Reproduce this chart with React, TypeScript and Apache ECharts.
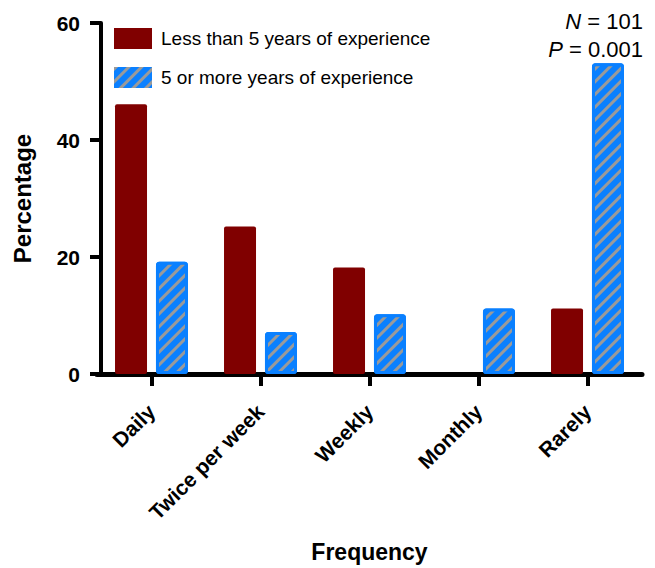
import React, { useEffect, useRef } from "react";
import * as echarts from "echarts";

const categories = ["Daily", "Twice per week", "Weekly", "Monthly", "Rarely"];
const lessThan5 = [46.1, 25.2, 18.2, 0, 11.2];
const fiveOrMore = [19.2, 7.2, 10.2, 11.2, 53.1];
const seriesNames = ["Less than 5 years of experience", "5 or more years of experience"];
const statLines = [
  { key: "N", value: "101" },
  { key: "P", value: "0.001" },
];

const FONT = 'Arial, "Liberation Sans", Helvetica, sans-serif';
const RED = "#800000";
const BLUE = "#0a80ff";

export default function App() {
  const ref = useRef<HTMLDivElement>(null);

  useEffect(() => {
    if (!ref.current) return;
    const chart = echarts.init(ref.current, null, { renderer: "svg" });
    chart.setOption({
      animation: false,
      backgroundColor: "#ffffff",
      textStyle: { fontFamily: FONT },
      grid: { left: 97, right: 13, top: 23, bottom: 190, containLabel: false },
      legend: {
        orient: "vertical",
        left: 109,
        top: 23,
        itemWidth: 38,
        itemHeight: 21,
        itemGap: 18,
        icon: "rect",
        itemStyle: { borderWidth: 0 },
        textStyle: { fontSize: 19, color: "#000", fontFamily: FONT, padding: [0, 0, 0, 4] },
        data: seriesNames,
      },
      xAxis: {
        type: "category",
        data: categories,
        boundaryGap: true,
        axisLine: { show: true, lineStyle: { color: "#000", width: 5 } },
        axisTick: { show: true, alignWithLabel: true, length: 12, lineStyle: { color: "#000", width: 4 } },
        axisLabel: {
          rotate: 45,
          margin: 34,
          color: "#000",
          fontSize: 21,
          fontWeight: "bold",
          fontFamily: FONT,
        },
        name: "Frequency",
        nameLocation: "middle",
        nameGap: 166,
        nameTextStyle: { fontSize: 23, fontWeight: "bold", color: "#000", fontFamily: FONT },
        splitLine: { show: false },
      },
      yAxis: {
        type: "value",
        min: 0,
        max: 60,
        interval: 20,
        offset: -4,
        axisLine: { show: true, lineStyle: { color: "#000", width: 4 } },
        axisTick: { show: true, length: 11, lineStyle: { color: "#000", width: 4 } },
        axisLabel: {
          margin: 21,
          color: "#000",
          fontSize: 21,
          fontWeight: "bold",
          fontFamily: FONT,
        },
        splitLine: { show: false },
        name: "Percentage",
        nameLocation: "middle",
        nameGap: 67,
        nameRotate: 90,
        nameTextStyle: { fontSize: 24, fontWeight: "bold", color: "#000", fontFamily: FONT },
      },
      series: [
        {
          name: seriesNames[0],
          type: "bar",
          data: lessThan5,
          barWidth: 32,
          barGap: "28%",
          itemStyle: { color: RED, borderRadius: 2 },
        },
        {
          name: seriesNames[1],
          type: "bar",
          data: fiveOrMore,
          barWidth: 32,
          barGap: "28%",
          itemStyle: {
            color: BLUE,
            borderColor: BLUE,
            borderWidth: 3,
            borderRadius: 2,
            decal: {
              symbol: "rect",
              symbolSize: 1,
              symbolKeepAspect: false,
              color: "#9a9a9a",
              dashArrayX: [1, 0],
              dashArrayY: [2.8, 5.4],
              rotation: -Math.PI / 4,
            },
          },
        },
      ],
      graphic: statLines.map((s, i) => ({
        type: "text",
        right: 12,
        top: 10 + i * 28,
        style: {
          text: `{i|${s.key}} = ${s.value}`,
          fontSize: 22,
          fontFamily: FONT,
          fill: "#000",
          align: "right",
          rich: { i: { fontStyle: "italic", fontSize: 22, fontFamily: FONT, fill: "#000" } },
        },
      })),
    });
    return () => chart.dispose();
  }, []);

  return (
    <div
      ref={ref}
      style={{ position: "fixed", left: 0, top: 0, width: 655, height: 568 }}
    />
  );
}
